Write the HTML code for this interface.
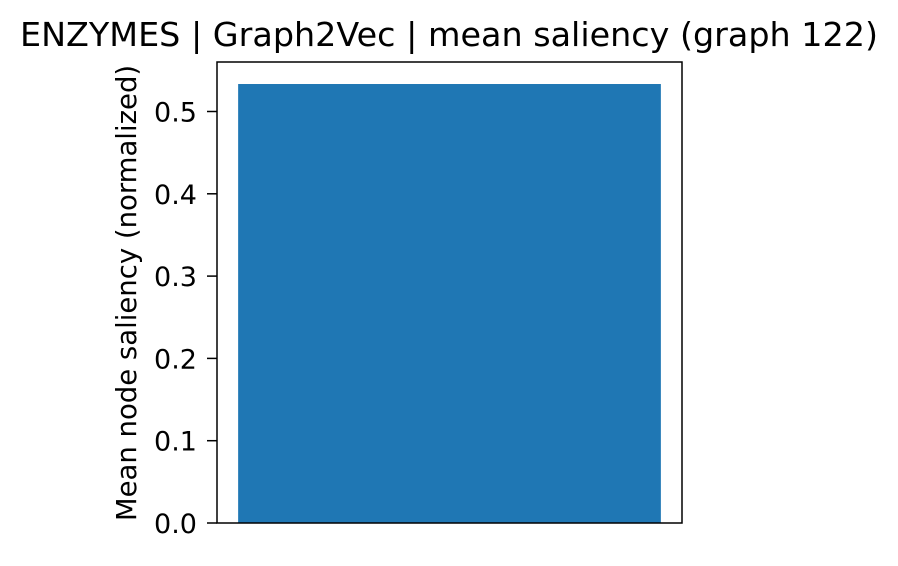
<!DOCTYPE html>
<html><head><meta charset="utf-8"><style>body{margin:0;background:#fff}svg text{font-family:"DejaVu Sans","Liberation Sans",sans-serif;fill:#000}</style></head>
<body>
<svg id="c" width="898" height="561" xmlns="http://www.w3.org/2000/svg">
<text x="449" y="46" font-size="33" text-anchor="middle" textLength="858" lengthAdjust="spacingAndGlyphs">ENZYMES | Graph2Vec | mean saliency (graph 122)</text>
<text transform="translate(136,293) rotate(-90)" font-size="27.5" text-anchor="middle">Mean node saliency (normalized)</text>
<g id="g"></g>
<rect x="217" y="62" width="465" height="461" fill="none" stroke="#000" stroke-width="1.5"/>
</svg>
<script>
const categories = ["graph 122"];
const values = [0.5334];
const ticks = [0, 0.1, 0.2, 0.3, 0.4, 0.5];
const tickLabels = ["0.0","0.1","0.2","0.3","0.4","0.5"];
const NS="http://www.w3.org/2000/svg";
const g=document.getElementById('g');
const y=v=>523-v*823;
const x0=217,x1=682;
const n=categories.length, xmin=-0.44, xmax=n-1+0.44;
const x=v=>x0+(v-xmin)/(xmax-xmin)*(x1-x0);
values.forEach((v,i)=>{
  const r=document.createElementNS(NS,'rect');
  const l=x(i-0.4), rr=x(i+0.4);
  r.setAttribute('x',l);r.setAttribute('width',rr-l);
  r.setAttribute('y',y(v));r.setAttribute('height',y(0)-y(v));
  r.setAttribute('fill','#1f77b4');
  
  
  g.appendChild(r);
});
ticks.forEach((t,i)=>{
  const ln=document.createElementNS(NS,'line');
  ln.setAttribute('x1',207);ln.setAttribute('x2',217);
  ln.setAttribute('y1',y(t));ln.setAttribute('y2',y(t));
  ln.setAttribute('stroke','#000');ln.setAttribute('stroke-width',1.5);
  
  
  g.appendChild(ln);
  const tx=document.createElementNS(NS,'text');
  tx.setAttribute('x',197);tx.setAttribute('y',y(t)+10);
  tx.setAttribute('font-size',27);tx.setAttribute('text-anchor','end');
  tx.textContent=tickLabels[i];
  
  
  g.appendChild(tx);
});
</script>
</body></html>
